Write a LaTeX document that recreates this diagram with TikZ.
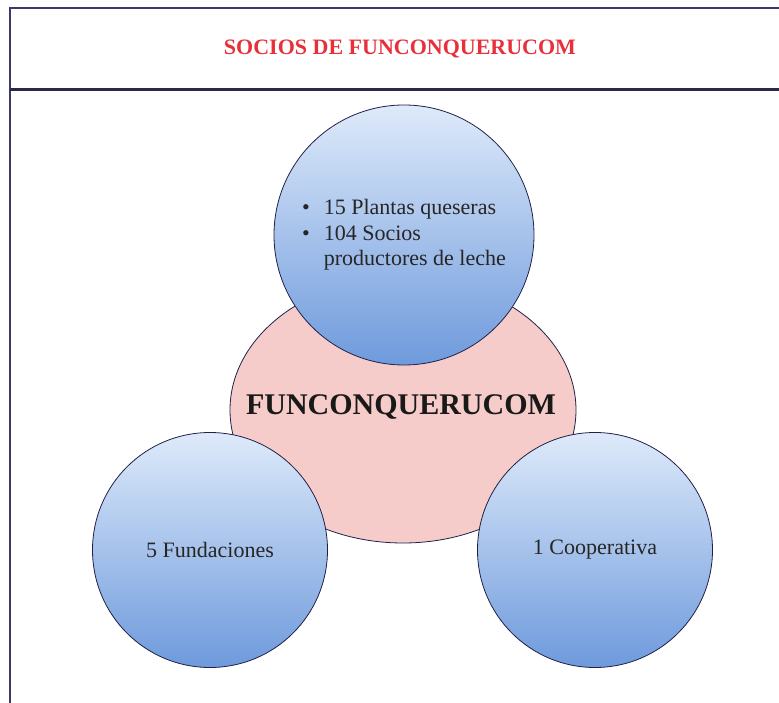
\documentclass[tikz,border=0pt]{standalone}
\usepackage{fontspec}
\setmainfont{Liberation Serif}
\usetikzlibrary{shapes.geometric}
\definecolor{marco}{RGB}{60,58,106}
\definecolor{rojotitulo}{RGB}{232,48,58}
\definecolor{rosa}{RGB}{245,204,202}
\definecolor{azulclaro}{RGB}{222,234,250}
\definecolor{azuloscuro}{RGB}{110,154,220}
\definecolor{borde}{RGB}{32,32,72}

\tikzset{
  socio/.style={circle, draw=borde, line width=0.8pt,
    top color=azulclaro, bottom color=azuloscuro,
    inner sep=0pt, text=black!85,
    font=\fontsize{22}{25.5}\selectfont},
}

\begin{document}
\begin{tikzpicture}[x=1pt,y=-1pt]
        \useasboundingbox (0,0) rectangle (779,703);
        \clip (0,0) rectangle (779,703);
        % marco y titulo
        \draw[marco, line width=2.5pt] (10,720) -- (10,8) -- (800,8);
        \draw[marco!70!black, line width=3pt] (10,90) -- (800,90);
        \node[text=rojotitulo, font=\bfseries\fontsize{22}{26}\selectfont] (titulo) at (400,49)
          {SOCIOS DE FUNCONQUERUCOM};
        % fundacion en el centro
        \node[ellipse, draw=borde, line width=0.8pt, fill=rosa, inner sep=0pt,
          minimum width=346pt, minimum height=266pt] (centro) at (403,410) {};
        \node[font=\bfseries\fontsize{30}{34}\selectfont, text=black!90] (nombre) at (401,407)
          {FUNCONQUERUCOM};
        % socios
        \node[socio, minimum size=260pt] (plantas) at (404,235)
          {\begin{tabular}{@{}l@{\hspace{14pt}}l@{}}
             \textbullet & 15 Plantas queseras\\
             \textbullet & 104 Socios\\
                         & productores de leche
           \end{tabular}};
        \node[socio, minimum size=235pt] (fundaciones) at (210,550) {5 Fundaciones};
        \node[socio, minimum size=235pt] (cooperativa) at (595,550) {1 Cooperativa};
\end{tikzpicture}
\end{document}
